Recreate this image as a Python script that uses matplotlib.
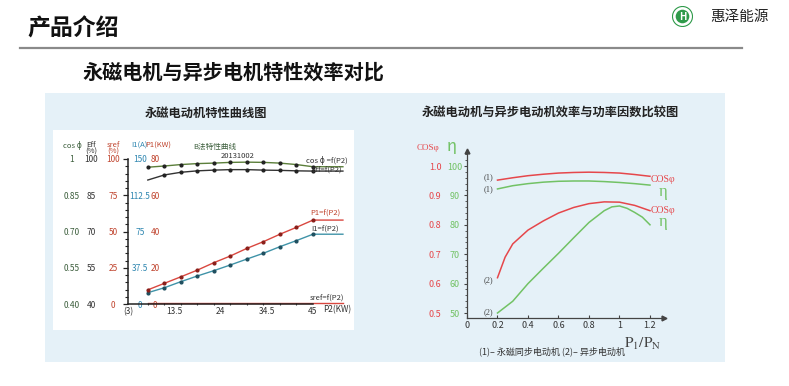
import matplotlib.pyplot as plt
from matplotlib.patches import Rectangle, Circle
from matplotlib.ticker import MultipleLocator

plt.rcParams['font.family'] = ['Noto Sans CJK SC', 'DejaVu Sans']
plt.rcParams['mathtext.fontset'] = 'stix'

W, H = 789, 386

# --- left chart: PM motor characteristic curves vs output power P2 (kW)
p2_kw = [7.5, 11.25, 15, 18.75, 22.5, 26.25, 30, 33.75, 37.5, 41.25, 45, 51.8]
cos_phi = [0.966, 0.971, 0.977, 0.981, 0.983, 0.986, 0.987, 0.986, 0.983, 0.977, 0.968, 0.968]
eff_pct = [91.3, 93.4, 94.5, 95.1, 95.4, 95.6, 95.6, 95.4, 95.3, 95.1, 95.0, 95.0]
p1_kw = [7.8, 11.4, 15.0, 18.7, 22.8, 26.5, 30.7, 34.4, 38.5, 42.3, 46.3, 46.3]
i1_amp = [11.7, 16.8, 23.1, 29.0, 34.5, 40.4, 46.5, 52.5, 59.3, 65.6, 72.2, 72.2]
sref_pct = [0.4, 0.4, 0.4, 0.4, 0.4, 0.4, 0.4, 0.4, 0.4, 0.4, 0.4, 0.4]

cos_ticks = [0.40, 0.55, 0.70, 0.85, 1.0]
cos_labels = ["0.40", "0.55", "0.70", "0.85", "1"]
eff_ticks = [40, 55, 70, 85, 100]
sref_ticks = [0, 25, 50, 75, 100]
i1_ticks = [0, 37.5, 75, 112.5, 150]
i1_labels = ["0", "37.5", "75", "112.5", "150"]
p1_ticks = [0, 20, 40, 60, 80]
p2_ticks = [3, 13.5, 24, 34.5, 45]
p2_labels = ["(3)", "13.5", "24", "34.5", "45"]

# --- right chart: efficiency / power factor vs load ratio P1/PN
load_1 = [0.2, 0.3, 0.4, 0.5, 0.6, 0.7, 0.8, 0.9, 1.0, 1.1, 1.2]
cos_pm = [0.952, 0.960, 0.967, 0.972, 0.976, 0.978, 0.979, 0.978, 0.976, 0.971, 0.965]
eta_pm = [92.2, 93.3, 94.0, 94.5, 94.8, 94.9, 94.9, 94.7, 94.4, 94.0, 93.5]
load_2 = [0.2, 0.25, 0.3, 0.4, 0.5, 0.6, 0.7, 0.8, 0.9, 1.0, 1.1, 1.2]
cos_async = [0.620, 0.690, 0.735, 0.782, 0.813, 0.840, 0.859, 0.872, 0.878, 0.877, 0.866, 0.848]
load_3 = [0.2, 0.3, 0.4, 0.5, 0.6, 0.7, 0.8, 0.9, 0.95, 1.0, 1.05, 1.1, 1.15, 1.2]
eta_async = [50.0, 54.0, 60.0, 65.2, 70.3, 75.6, 80.8, 84.8, 86.1, 86.4, 85.6, 84.2, 82.6, 80.0]

load_ticks = [0, 0.2, 0.4, 0.6, 0.8, 1.0, 1.2]
cos_r_ticks = [0.5, 0.6, 0.7, 0.8, 0.9, 1.0]
eta_r_ticks = [50, 60, 70, 80, 90, 100]

RED = '#e5474b'
GREEN = '#72c265'


def px(x, y):
    return x / W, 1 - y / H


fig = plt.figure(figsize=(W / 100, H / 100), dpi=100)

# slide header
fig.text(*px(27, 29), "产品介绍", fontsize=16.5, fontweight='bold', va='center', color='#111')
fig.add_artist(plt.Line2D([20 / W, 742 / W], [1 - 48 / H] * 2, color='#8a8a8a', lw=1.6))
fig.text(*px(82, 72), "永磁电机与异步电机特性效率对比", fontsize=14.5, fontweight='bold',
         va='center', color='#111')
fig.text(*px(710, 17), "惠泽能源", fontsize=10.5, va='center', color='#222')

logo = fig.add_axes([672 / W, 1 - 27 / H, 21 / W, 21 / H])
logo.set_xlim(-1.05, 1.05)
logo.set_ylim(-1.05, 1.05)
logo.set_aspect('equal')
logo.axis('off')
logo.add_patch(Circle((0, 0), 1.0, fc='white', ec='#2f9a4a', lw=0.8))
logo.add_patch(Circle((0, 0), 0.68, fc='#2f9a4a', ec='none'))
logo.text(0, -0.05, "H", color='white', fontsize=7, fontweight='bold', ha='center', va='center')

# background panels
fig.add_artist(Rectangle(px(45, 362), 680 / W, 269 / H, transform=fig.transFigure,
                         fc='#e5f1f8', ec='none', zorder=-2))
fig.add_artist(Rectangle(px(53, 330), 301 / W, 200 / H, transform=fig.transFigure,
                         fc='white', ec='none', zorder=-1))

fig.text(*px(206, 113), "永磁电动机特性曲线图", fontsize=8.8, fontweight='bold',
         ha='center', va='center', color='#222')
fig.text(*px(550, 113), "永磁电动机与异步电动机效率与功率因数比较图", fontsize=8.8,
         fontweight='bold', ha='center', va='center', color='#222')

# ---------------- left chart ----------------
rect_l = [128 / W, (H - 304) / H, 218 / W, 145 / H]


def column(lims, ticks, labels, color, pad_px):
    a = fig.add_axes(rect_l)
    a.set_xlim(3, 52.5)
    a.set_ylim(*lims)
    a.patch.set_visible(False)
    for s in a.spines.values():
        s.set_visible(False)
    a.set_yticks(ticks, labels, ha='center')
    a.set_xticks([])
    a.tick_params(axis='y', length=0, pad=pad_px * 0.72, labelsize=6, labelcolor=color)
    return a


ax_cos = column((0.40, 1.0), cos_ticks, cos_labels, '#3d5f3d', 56)
ax_eff = column((40, 100), eff_ticks, [str(v) for v in eff_ticks], '#333333', 37)
ax_sref = column((0, 100), sref_ticks, [str(v) for v in sref_ticks], '#c0442e', 15)
ax_i1 = column((0, 150), i1_ticks, i1_labels, '#2e86b0', -12)
ax_p1 = column((0, 80), p1_ticks, [str(v) for v in p1_ticks], '#c0442e', -27)

mk = list(range(11))
ax_sref.plot(p2_kw, sref_pct, color='#d9473f', lw=1.0, clip_on=False)
ax_cos.plot(p2_kw, cos_phi, color='#5b7f3a', lw=1.0, marker='o', ms=2, mfc='#222', mec='#222',
            markevery=mk, clip_on=False)
ax_eff.plot(p2_kw, eff_pct, color='#333', lw=1.0, marker='o', ms=2, mfc='#222', mec='#222',
            markevery=mk[1:], clip_on=False)
ax_p1.plot(p2_kw, p1_kw, color='#d9473f', lw=1.0, marker='o', ms=2, mfc='#8a1f1a', mec='#8a1f1a',
           markevery=mk)
ax_i1.plot(p2_kw, i1_amp, color='#3f93a8', lw=1.0, marker='o', ms=2, mfc='#1f4f5f', mec='#1f4f5f',
           markevery=mk)

# frame axes (spines + P2 ticks), created last so it sits on top
ax = fig.add_axes(rect_l)
ax.set_zorder(10)
ax.patch.set_visible(False)
ax.set_xlim(3, 52.5)
ax.set_ylim(0, 100)
ax.spines['top'].set_visible(False)
ax.spines['right'].set_visible(False)
ax.spines['bottom'].set_bounds(3, 45)
for s in ['left', 'bottom']:
    ax.spines[s].set_color('#222')
    ax.spines[s].set_linewidth(1.1)
ax.set_yticks(sref_ticks)
ax.yaxis.set_minor_locator(MultipleLocator(5))
ax.tick_params(axis='y', which='both', labelleft=False)
ax.tick_params(axis='y', which='major', length=3.5, width=0.9, color='#222')
ax.tick_params(axis='y', which='minor', length=2.5, width=0.8, color='#222')
ax.set_xticks(p2_ticks, p2_labels)
ax.set_xticks(p2_kw[:-1], minor=True)
ax.tick_params(axis='x', which='major', length=0, pad=2, labelsize=6, labelcolor='#333')
ax.tick_params(axis='x', which='minor', length=2, width=0.8, direction='inout', color='#333')

# column headers and curve labels
hdr = dict(fontsize=5.5, ha='center', va='center')
fig.text(*px(72, 146), "cos ϕ", color='#3d5f3d', **hdr)
fig.text(*px(91, 145), "Eff", color='#333', **hdr)
fig.text(*px(91, 152), "(%)", color='#333', **hdr)
fig.text(*px(113, 145), "sref", color='#c0442e', **hdr)
fig.text(*px(113, 152), "(%)", color='#c0442e', **hdr)
fig.text(*px(139, 146), "I1(A)", color='#2e86b0', **hdr)
fig.text(*px(158, 146), "P1(KW)", color='#c0442e', **hdr)
fig.text(*px(215, 147), "B法特性曲线", color='#3d5f3d', **hdr)
fig.text(*px(238, 156), "20131002", color='#333', **hdr)
fig.text(*px(327, 161), "cos ϕ =f(P2)", color='#333', **hdr)
fig.text(*px(327, 170), "Eff=f(P2)", color='#333', **hdr)
fig.text(*px(325, 213), "P1=f(P2)", color='#c0442e', **hdr)
fig.text(*px(325, 229), "I1=f(P2)", color='#333', **hdr)
fig.text(*px(327, 298), "sref=f(P2)", color='#333', **hdr)
fig.text(*px(337, 310), "P2(KW)", color='#333', fontsize=6, ha='center', va='center')

# ---------------- right chart ----------------
rect_r = [467 / W, (H - 318) / H, 196.7 / W, 166.7 / H]
ax2 = fig.add_axes(rect_r)
ax2.patch.set_visible(False)
ax2.set_xlim(0, 1.29)
ax2.set_ylim(0.483, 1.05)
for s in ['top', 'right']:
    ax2.spines[s].set_visible(False)
for s in ['left', 'bottom']:
    ax2.spines[s].set_color('#444')
    ax2.spines[s].set_linewidth(0.9)
ax2.plot(1, 0, '>', color='#444', ms=3.5, transform=ax2.transAxes, clip_on=False)
ax2.plot(0, 1, '^', color='#444', ms=3.5, transform=ax2.transAxes, clip_on=False)
ax2.set_xticks(load_ticks, [f"{v:g}" for v in load_ticks])
ax2.tick_params(axis='x', length=2, direction='in', pad=2, labelsize=6.5, labelcolor='#333',
                color='#444')
ax2.set_yticks(cos_r_ticks, [f"{v:.1f}" for v in cos_r_ticks], ha='center')
ax2.yaxis.set_minor_locator(MultipleLocator(0.02))
ax2.tick_params(axis='y', which='major', length=2, color='#444', pad=21, labelsize=6.5,
                labelcolor=RED)
ax2.tick_params(axis='y', which='minor', length=1.5, width=0.6, color='#444')

ax2e = fig.add_axes(rect_r, sharex=ax2)
ax2e.patch.set_visible(False)
for s in ax2e.spines.values():
    s.set_visible(False)
ax2e.set_ylim(48.3, 105)
ax2e.set_yticks(eta_r_ticks, [str(v) for v in eta_r_ticks], ha='center')
ax2e.tick_params(axis='y', length=0, pad=8.6, labelsize=6.5, labelcolor=GREEN)
ax2e.tick_params(axis='x', length=0, labelbottom=False)

ax2.plot(load_1, cos_pm, color=RED, lw=1.1)
ax2.plot(load_2, cos_async, color=RED, lw=1.1)
ax2e.plot(load_1, eta_pm, color=GREEN, lw=1.1)
ax2e.plot(load_3, eta_async, color=GREEN, lw=1.1)

serif = ['Liberation Serif', 'DejaVu Serif']
fig.text(*px(428, 148), "COSφ", color=RED, fontsize=6.5, family=serif, ha='center', va='center')
fig.text(*px(452, 147), "η", color=GREEN, fontsize=12, ha='center', va='center')
ser = dict(fontsize=6, color='#444', family=serif, ha='center', va='center')
fig.text(*px(488, 177), "(1)", **ser)
fig.text(*px(488, 189), "(1)", **ser)
fig.text(*px(488, 280), "(2)", **ser)
fig.text(*px(488, 312), "(2)", **ser)
for y, t, c, fs in [(179, "COSφ", RED, 7), (192, "η", GREEN, 12),
                    (210, "COSφ", RED, 7), (222, "η", GREEN, 12)]:
    fig.text(*px(663, y), t, color=c, fontsize=fs, family=serif, ha='center', va='center')
fig.text(*px(643, 343), r"$\mathrm{P_1/P_N}$", fontsize=11, color='#444', ha='center', va='center')
fig.text(*px(552, 351), "(1)– 永磁同步电动机 (2)– 异步电动机", fontsize=6.5, color='#333',
         ha='center', va='center')

fig.savefig("out.png", dpi=100)
